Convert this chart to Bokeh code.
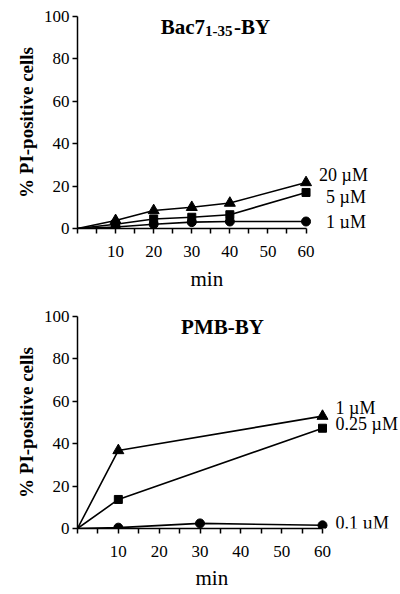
from bokeh.plotting import figure
from bokeh.layouts import column
from bokeh.models import Label, FixedTicker, Range1d, Title
from bokeh.embed import file_html
from bokeh.resources import INLINE

FONT = "Liberation Serif"

# ---------- data ----------
x_ticks = [10, 20, 30, 40, 50, 60]
x_minor_ticks = [0, 5, 15, 25, 35, 45, 55]
y_ticks = [0, 20, 40, 60, 80, 100]

# Top panel: Bac7(1-35)-BY
top_x = [0, 10, 20, 30, 40, 60]
top_20uM = [0, 3.8, 8.5, 10.0, 12.0, 21.7]
top_5uM = [0, 2.0, 4.5, 5.3, 6.5, 17.0]
top_1uM = [0, 0.7, 2.0, 3.0, 3.3, 3.3]
top_labels = ["20 µM", "5 µM", "1 µM"]

# Bottom panel: PMB-BY
bot_x = [0, 10, 60]
bot_1uM = [0, 36.8, 53.0]
bot_025uM = [0, 13.7, 47.3]
bot_x_01 = [0, 10, 30, 60]
bot_01uM = [0, 0.4, 2.4, 1.5]
bot_labels = ["1 µM", "0.25 µM", "0.1 µM"]

y_label = "% PI-positive cells"
x_label = "min"


def make_fig(height, left, top, bottom, xmax, min_offset, min_standoff):
    p = figure(width=400, height=height, x_range=Range1d(0, xmax), y_range=Range1d(0, 100),
               output_backend="svg", toolbar_location=None,
               min_border_left=left, min_border_right=0,
               min_border_top=top, min_border_bottom=bottom)
    p.outline_line_color = None
    p.grid.grid_line_color = None
    p.background_fill_color = "white"
    p.border_fill_color = "white"
    for ax in (p.xaxis[0], p.yaxis[0]):
        ax.axis_line_color = "black"
        ax.axis_line_width = 1.5
        ax.major_tick_line_color = "black"
        ax.major_tick_line_width = 1.5
        ax.minor_tick_line_color = "black"
        ax.minor_tick_line_width = 1.5
        ax.major_tick_in = 0
        ax.major_tick_out = 5
        ax.minor_tick_in = 0
        ax.minor_tick_out = 5
        ax.major_label_text_font = FONT
        ax.major_label_text_font_size = "17px"
        ax.major_label_text_color = "black"
    p.xaxis[0].ticker = FixedTicker(ticks=x_ticks, minor_ticks=x_minor_ticks)
    p.xaxis[0].bounds = (0, 60)
    p.xaxis[0].major_label_standoff = 12
    p.yaxis[0].ticker = FixedTicker(ticks=y_ticks, minor_ticks=[])
    p.yaxis[0].major_label_standoff = 3
    p.yaxis[0].axis_label = y_label
    p.yaxis[0].axis_label_text_font = FONT
    p.yaxis[0].axis_label_text_font_style = "bold"
    p.yaxis[0].axis_label_text_font_size = "19px"
    p.yaxis[0].axis_label_text_color = "black"
    p.yaxis[0].axis_label_standoff = 4
    p.add_layout(Title(text=x_label, align="left", offset=min_offset, standoff=min_standoff,
                       text_font=FONT, text_font_size="21px", text_font_style="normal",
                       text_color="black"), "below")
    return p


def series(p, xs, ys, marker, size):
    p.line(xs, ys, line_color="black", line_width=1.6)
    p.scatter(xs[1:], ys[1:], marker=marker, size=size, fill_color="black", line_color="black")


def txt(p, x, y, text, size, bold=False, dx=0, dy=0, align="left", baseline="middle"):
    p.add_layout(Label(x=x, y=y, x_offset=dx, y_offset=dy, text=text,
                       text_font=FONT, text_font_size=size,
                       text_font_style="bold" if bold else "normal",
                       text_align=align, text_baseline=baseline, text_color="black"))


# ---------- top panel ----------
p1 = make_fig(298, 75, 16, 70, 84.8, 113, 10)
series(p1, top_x, top_1uM, "circle", 9)
series(p1, top_x, top_5uM, "square", 8)
series(p1, top_x, top_20uM, "triangle", 11)
txt(p1, top_x[-1], top_20uM[-1], top_labels[0], "18px", dx=13, dy=7)
txt(p1, top_x[-1], top_5uM[-1], top_labels[1], "18px", dx=20, dy=-5)
txt(p1, top_x[-1], top_1uM[-1], top_labels[2], "18px", dx=20, dy=0)
# title with subscript
txt(p1, 33.5, 100, "Bac7", "21px", bold=True, dy=-10, align="right", baseline="alphabetic")
txt(p1, 33.5, 100, "1-35", "15px", bold=True, dx=0, dy=-14, align="left", baseline="alphabetic")
txt(p1, 33.5, 100, "-BY", "21px", bold=True, dx=29, dy=-10, align="left", baseline="alphabetic")

# ---------- bottom panel ----------
p2 = make_fig(296, 77, 18, 66, 79.1, 118, 9)
series(p2, bot_x_01, bot_01uM, "circle", 9)
series(p2, bot_x, bot_025uM, "square", 8)
series(p2, bot_x, bot_1uM, "triangle", 11)
txt(p2, bot_x[-1], bot_1uM[-1], bot_labels[0], "18px", dx=13, dy=8)
txt(p2, bot_x[-1], bot_025uM[-1], bot_labels[1], "18px", dx=13, dy=4)
txt(p2, bot_x_01[-1], bot_01uM[-1], bot_labels[2], "18px", dx=13, dy=2)
txt(p2, 35.5, 100, "PMB-BY", "21px", bold=True, dy=-10, align="center", baseline="alphabetic")

layout = column(p1, p2, spacing=0)
open("out.html", "w").write(file_html(layout, INLINE))
